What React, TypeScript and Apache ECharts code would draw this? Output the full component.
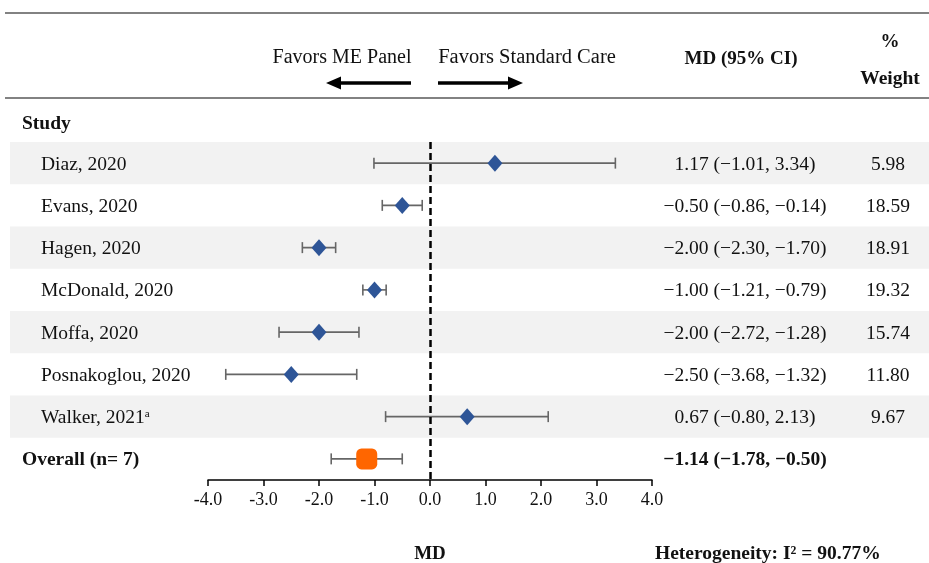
import React, { useEffect, useRef } from "react";
import * as echarts from "echarts";

const studies = ["Diaz, 2020", "Evans, 2020", "Hagen, 2020", "McDonald, 2020", "Moffa, 2020", "Posnakoglou, 2020", "Walker, 2021"];
const footnotes = ["", "", "", "", "", "", "a"];
const md = [1.17, -0.5, -2.0, -1.0, -2.0, -2.5, 0.67];
const lower = [-1.01, -0.86, -2.3, -1.21, -2.72, -3.68, -0.8];
const upper = [3.34, -0.14, -1.7, -0.79, -1.28, -1.32, 2.13];
const weights = ["5.98", "18.59", "18.91", "19.32", "15.74", "11.80", "9.67"];
const overallLabel = "Overall (n= 7)";
const overallMd = -1.14;
const overallLower = -1.78;
const overallUpper = -0.5;
const xTicks = { min: -4, max: 4, interval: 1 };
const heterogeneity = "Heterogeneity: I\u00B2 = 90.77%";

const FONT = "Liberation Serif";

const fmt = (v: number) => (v < 0 ? "\u2212" : "") + Math.abs(v).toFixed(2);

export default function App() {
  const ref = useRef<HTMLDivElement>(null);
  useEffect(() => {
    if (!ref.current) return;
    const chart = echarts.init(ref.current, undefined, { renderer: "svg" });
    const rows = [...studies, overallLabel];
    const n = studies.length;
    const bandIdx = studies.map((_, i) => i).filter((i) => i % 2 === 0).map((i) => [0, i]);
    const ciData = studies.map((_, i) => [lower[i], upper[i], i]);
    ciData.push([overallLower, overallUpper, n]);
    const pointData = studies.map((_, i) => [md[i], i]);

    const option: any = {
      animation: false,
      textStyle: { fontFamily: FONT, color: "#111" },
      grid: { left: 208, right: 277, top: 142, bottom: 83, containLabel: false, outerBoundsMode: "none" },
      xAxis: {
        type: "value",
        min: xTicks.min,
        max: xTicks.max,
        interval: xTicks.interval,
        axisLine: { show: true, lineStyle: { color: "#000", width: 1.5 } },
        axisTick: { show: true, length: 6, lineStyle: { color: "#000", width: 1.5 } },
        axisLabel: { formatter: (v: number) => v.toFixed(1), fontFamily: FONT, fontSize: 18, color: "#111", margin: 10 },
        splitLine: { show: false },
        name: "MD",
        nameLocation: "middle",
        nameGap: 63,
        nameTextStyle: { fontFamily: FONT, fontSize: 19, fontWeight: "bold", color: "#111" },
      },
      yAxis: [
        {
          type: "category",
          data: rows,
          inverse: true,
          position: "left",
          axisLine: { show: false },
          axisTick: { show: false },
          splitLine: { show: false },
          axisLabel: {
            align: "left",
            margin: 186,
            formatter: (value: string, idx: number) =>
              idx < n ? `{n|${value}}` + (footnotes[idx] ? `{sup|${footnotes[idx]}}` : "") : `{o|${value}}`,
            rich: {
              n: { fontFamily: FONT, fontSize: 19.5, color: "#111", padding: [0, 0, 0, 19] },
              sup: { fontFamily: FONT, fontSize: 11, color: "#111", padding: [0, 0, 8, 0] },
              o: { fontFamily: FONT, fontSize: 19.5, fontWeight: "bold", color: "#111" },
            },
          },
        },
        {
          type: "category",
          data: rows,
          inverse: true,
          position: "right",
          axisLine: { show: false },
          axisTick: { show: false },
          splitLine: { show: false },
          axisLabel: {
            align: "left",
            margin: 10,
            formatter: (_: string, idx: number) =>
              idx < n
                ? `{ci|${fmt(md[idx])} (${fmt(lower[idx])}, ${fmt(upper[idx])})}{w|${weights[idx]}}`
                : `{cib|${fmt(overallMd)} (${fmt(overallLower)}, ${fmt(overallUpper)})}{w|}`,
            rich: {
              ci: { fontFamily: FONT, fontSize: 19.5, color: "#111", width: 166, align: "center" },
              cib: { fontFamily: FONT, fontSize: 19.5, fontWeight: "bold", color: "#111", width: 166, align: "center" },
              w: { fontFamily: FONT, fontSize: 19.5, color: "#111", width: 120, align: "center" },
            },
          },
        },
      ],
      series: [
        {
          type: "custom",
          z: 0,
          silent: true,
          clip: false,
          data: bandIdx,
          renderItem: (params: any, api: any) => {
            const c = api.coord([0, api.value(1)]);
            const h = api.size([0, 1])[1];
            return {
              type: "rect",
              shape: { x: 10, y: c[1] - h / 2, width: 919, height: h },
              style: { fill: "#f2f2f2" },
            };
          },
        },
        {
          type: "custom",
          z: 2,
          silent: true,
          data: ciData,
          encode: { x: [0, 1], y: 2 },
          renderItem: (params: any, api: any) => {
            const idx = api.value(2);
            const p1 = api.coord([api.value(0), idx]);
            const p2 = api.coord([api.value(1), idx]);
            const cap = 5.5;
            const st = { stroke: "#666", lineWidth: 1.6 };
            return {
              type: "group",
              children: [
                { type: "line", shape: { x1: p1[0], y1: p1[1], x2: p2[0], y2: p2[1] }, style: st },
                { type: "line", shape: { x1: p1[0], y1: p1[1] - cap, x2: p1[0], y2: p1[1] + cap }, style: st },
                { type: "line", shape: { x1: p2[0], y1: p2[1] - cap, x2: p2[0], y2: p2[1] + cap }, style: st },
              ],
            };
          },
        },
        {
          type: "scatter",
          z: 4,
          silent: true,
          data: [],
          markLine: {
            silent: true,
            symbol: ["none", "none"],
            label: { show: false },
            lineStyle: { color: "#000", type: [7, 4], width: 2.5 },
            data: [{ xAxis: 0 }],
          },
        },
        {
          type: "scatter",
          z: 5,
          silent: true,
          symbol: "diamond",
          symbolSize: [15, 17],
          itemStyle: { color: "#2E5597", opacity: 1 },
          data: pointData,
        },
        {
          type: "scatter",
          z: 5,
          silent: true,
          symbol: "roundRect",
          symbolSize: 21,
          itemStyle: { color: "#FF6600", opacity: 1 },
          data: [[overallMd, n]],
        },
      ],
      graphic: [
        { type: "line", shape: { x1: 5, y1: 13, x2: 929, y2: 13 }, style: { stroke: "#595959", lineWidth: 1.5 } },
        { type: "line", shape: { x1: 5, y1: 98, x2: 929, y2: 98 }, style: { stroke: "#595959", lineWidth: 1.5 } },
        { type: "text", x: 342, y: 56, style: { text: "Favors ME Panel", font: `20px '${FONT}'`, fill: "#111", textAlign: "center", textVerticalAlign: "middle" } },
        { type: "text", x: 527, y: 56, style: { text: "Favors Standard Care", font: `20.5px '${FONT}'`, fill: "#111", textAlign: "center", textVerticalAlign: "middle" } },
        { type: "line", shape: { x1: 338, y1: 83, x2: 411, y2: 83 }, style: { stroke: "#000", lineWidth: 3.5 } },
        { type: "polygon", shape: { points: [[326, 83], [341, 76.5], [341, 89.5]] }, style: { fill: "#000" } },
        { type: "line", shape: { x1: 438, y1: 83, x2: 511, y2: 83 }, style: { stroke: "#000", lineWidth: 3.5 } },
        { type: "polygon", shape: { points: [[523, 83], [508, 76.5], [508, 89.5]] }, style: { fill: "#000" } },
        { type: "text", x: 741, y: 57, style: { text: "MD (95% CI)", font: `bold 19px '${FONT}'`, fill: "#111", textAlign: "center", textVerticalAlign: "middle" } },
        { type: "text", x: 890, y: 40, style: { text: "%", font: `bold 19px '${FONT}'`, fill: "#111", textAlign: "center", textVerticalAlign: "middle" } },
        { type: "text", x: 890, y: 77, style: { text: "Weight", font: `bold 19.5px '${FONT}'`, fill: "#111", textAlign: "center", textVerticalAlign: "middle" } },
        { type: "text", x: 22, y: 122, style: { text: "Study", font: `bold 19.5px '${FONT}'`, fill: "#111", textAlign: "left", textVerticalAlign: "middle" } },
        { type: "text", x: 655, y: 552, style: { text: heterogeneity, font: `bold 19.5px '${FONT}'`, fill: "#111", textAlign: "left", textVerticalAlign: "middle" } },
      ],
    };
    chart.setOption(option);
    return () => chart.dispose();
  }, []);
  return <div ref={ref} style={{ position: "fixed", left: 0, top: 0, width: 929, height: 563 }} />;
}
